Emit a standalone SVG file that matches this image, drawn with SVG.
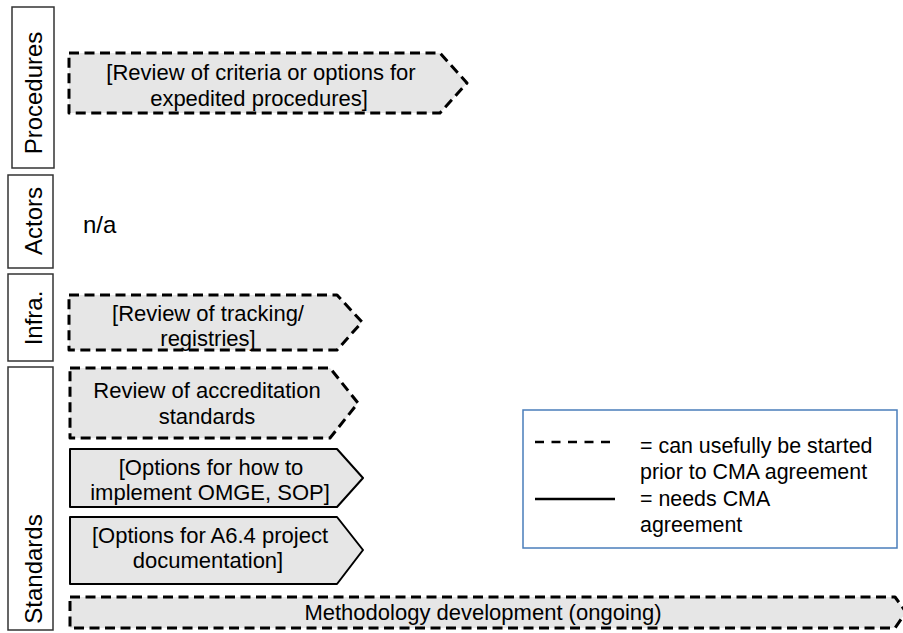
<svg xmlns="http://www.w3.org/2000/svg" width="903" height="633" viewBox="0 0 903 633">
  <style>
    text { font-family: "Liberation Sans", Arial, sans-serif; fill: #000; }
    .lbl { fill: #fff; stroke: #333; stroke-width: 1.5; }
    .rot { font-size: 24px; text-anchor: middle; }
    .arr { fill: #e6e6e6; stroke: #000; stroke-linejoin: round; }
    .dash { stroke-width: 3; stroke-dasharray: 10 5.5; }
    .solid { stroke-width: 2; }
    .t { font-size: 22px; text-anchor: middle; }
    .leg { font-size: 21.4px; }
  </style>

  <g id="row-procedures">
    <rect class="lbl" x="12" y="7" width="42" height="161"/>
    <text class="rot" transform="translate(42,93) rotate(-90)">Procedures</text>
  </g>
  <g id="row-actors">
    <rect class="lbl" x="8" y="175" width="45" height="93"/>
    <text class="rot" transform="translate(42,221) rotate(-90)">Actors</text>
  </g>
  <g id="row-infra">
    <rect class="lbl" x="8" y="274" width="45" height="87"/>
    <text class="rot" transform="translate(42,318) rotate(-90)">Infra.</text>
  </g>
  <g id="row-standards">
    <rect class="lbl" x="8" y="367" width="45" height="263"/>
    <text class="rot" transform="translate(42,569) rotate(-90)">Standards</text>
  </g>

  <g id="node-expedited">
    <path class="arr dash" d="M69,53 H440 L467,83 L440,113 H69 Z"/>
    <text class="t" x="261" y="80">[Review of criteria or options for</text>
    <text class="t" x="259" y="105.5">expedited procedures]</text>
  </g>

  <g id="node-actors-na">
    <text x="83" y="233" style="font-size:24px">n/a</text>
  </g>

  <g id="node-tracking">
    <path class="arr dash" d="M69,295 H337 L362,322 L337,350 H69 Z"/>
    <text class="t" x="208" y="321">[Review of tracking/</text>
    <text class="t" x="208" y="346">registries]</text>
  </g>

  <g id="node-accreditation">
    <path class="arr dash" d="M70,368 H330 L358,403 L330,438 H70 Z"/>
    <text class="t" x="207" y="398">Review of accreditation</text>
    <text class="t" x="207" y="424">standards</text>
  </g>

  <g id="node-omge">
    <path class="arr solid" d="M70,449 H337 L363,478 L337,507 H70 Z"/>
    <text class="t" x="211" y="475">[Options for how to</text>
    <text class="t" x="210" y="500">implement OMGE, SOP]</text>
  </g>

  <g id="node-a64">
    <path class="arr solid" d="M70,517 H337 L363,550 L337,584 H70 Z"/>
    <text class="t" x="210" y="543">[Options for A6.4 project</text>
    <text class="t" x="208" y="568">documentation]</text>
  </g>

  <g id="node-methodology">
    <path class="arr dash" d="M70,597 H895 L906,612 L895,628 H70 Z"/>
    <text class="t" x="483" y="620">Methodology development (ongoing)</text>
  </g>

  <g id="legend">
    <rect x="523" y="410" width="374" height="138" fill="#fff" stroke="#4a7ebb" stroke-width="1.5"/>
    <line x1="535" y1="442" x2="615" y2="442" stroke="#000" stroke-width="2.5" stroke-dasharray="9 7.5"/>
    <line x1="535" y1="499" x2="615" y2="499" stroke="#000" stroke-width="2.5"/>
    <text class="leg" x="640" y="453">= can usefully be started</text>
    <text class="leg" x="640" y="479">prior to CMA agreement</text>
    <text class="leg" x="640" y="506">= needs CMA</text>
    <text class="leg" x="640" y="532">agreement</text>
  </g>
</svg>
